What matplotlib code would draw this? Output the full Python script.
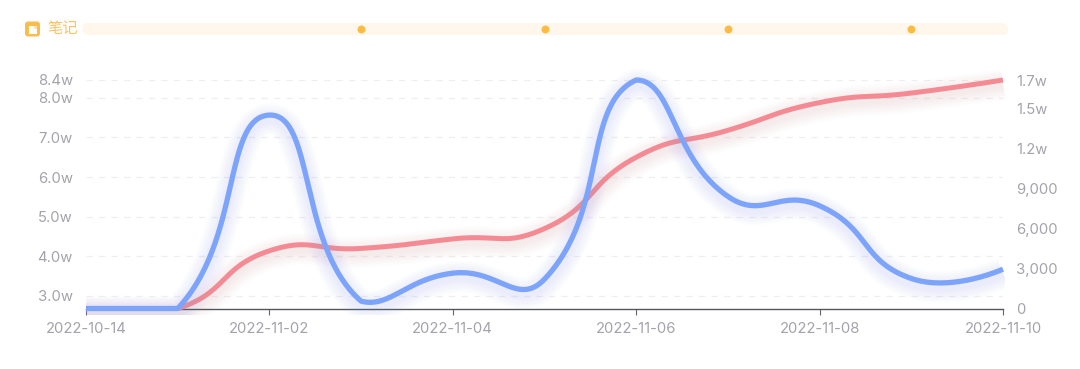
import numpy as np
import matplotlib
matplotlib.use("Agg")
import matplotlib.pyplot as plt
from matplotlib.patches import FancyBboxPatch, Rectangle
from matplotlib.transforms import ScaledTranslation

plt.rcParams['font.family'] = ['Inter', 'Noto Sans CJK SC', 'DejaVu Sans']

# ---- data ----
dates = ["2022-10-14", "", "2022-11-02", "", "2022-11-04", "", "2022-11-06", "", "2022-11-08", "", "2022-11-10"]
red_values = [2.684, 2.684, 4.14, 4.20, 4.44, 4.70, 6.50, 7.18, 7.88, 8.12, 8.45]
blue_values = [0, 0, 14500, 550, 2650, 2200, 17130, 8400, 7700, 2250, 2950]
note_points = [3, 5, 7, 9]
note_label = "笔记"
left_ticks = [3.0, 4.0, 5.0, 6.0, 7.0, 8.0, 8.45]
left_labels = ["3.0w", "4.0w", "5.0w", "6.0w", "7.0w", "8.0w", "8.4w"]
right_ticks = [0, 3000, 6000, 9000, 12000, 15000, 17130]
right_labels = ["0", "3,000", "6,000", "9,000", "1.2w", "1.5w", "1.7w"]

W, H = 1080, 369
fig = plt.figure(figsize=(W / 100, H / 100), dpi=100, facecolor="white")


def axes_px(x0, x1, ytop, ybot):
    return fig.add_axes([x0 / W, 1 - ybot / H, (x1 - x0) / W, (ybot - ytop) / H])


def smooth(ax, vals, strength=0.5, samples=60):
    """Bezier smoothing through the points, control points kept inside the data's bounds."""
    pts = ax.transData.transform(np.column_stack([np.arange(len(vals)), vals]))
    lo, hi = pts.min(axis=0), pts.max(axis=0)
    out = [pts[:1]]
    for i in range(len(pts) - 1):
        a, b = pts[i], pts[i + 1]
        if i == 0:
            c1 = a
        else:
            v = b - pts[i - 1]
            d0, d1 = np.linalg.norm(a - pts[i - 1]), np.linalg.norm(b - a)
            c1 = a + v * strength * d1 / (d0 + d1)
        if i + 2 >= len(pts):
            c2 = b
        else:
            v = pts[i + 2] - a
            d0, d1 = np.linalg.norm(b - a), np.linalg.norm(pts[i + 2] - b)
            c2 = b - v * strength * d0 / (d0 + d1)
        c1 = np.clip(c1, lo, hi)
        c2 = np.clip(c2, lo, hi)
        t = np.linspace(0, 1, samples + 1)[1:, None]
        out.append((1 - t)**3 * a + 3 * (1 - t)**2 * t * c1 + 3 * (1 - t) * t**2 * c2 + t**3 * b)
    return ax.transData.inverted().transform(np.vstack(out)).T


def glow_line(ax, xs, ys, color, lw):
    clip = Rectangle((0, -0.03), 1.002, 1.2, transform=ax.transAxes)
    shift = ax.transData + ScaledTranslation(0, -4 / 100, fig.dpi_scale_trans)
    for k in range(10):
        l, = ax.plot(xs, ys, color=color, lw=lw + 1.9 * (k + 1), alpha=0.017,
                     solid_capstyle="butt", transform=shift, zorder=2)
        l.set_clip_path(clip)
    l, = ax.plot(xs, ys, color=color, lw=lw, solid_capstyle="butt",
                 solid_joinstyle="round", zorder=3)
    l.set_clip_on(False)


# ---- main chart ----
ax = axes_px(86, 1003, 80, 308.5)
n = len(dates)
ax.set_xlim(0, n - 1)
ax.set_ylim(2.684, 8.45)
ax.patch.set_alpha(0)
for s in ["top", "left", "right"]:
    ax.spines[s].set_visible(False)
ax.spines["bottom"].set_color("#55555c")
ax.spines["bottom"].set_linewidth(1.0)

label_pos = [i for i, d in enumerate(dates) if d]
ax.set_xticks(label_pos)
ax.set_xticklabels([dates[i] for i in label_pos])
ax.tick_params(axis="x", length=4, width=0.8, color="#66666c", labelcolor="#a3a3ad",
               labelsize=10.7, pad=5.5)
ax.set_yticks(left_ticks)
ax.set_yticklabels(left_labels)
ax.tick_params(axis="y", length=0, labelcolor="#a3a3ad", labelsize=10.7, pad=9.5)
ax.yaxis.grid(True, color="#efeff1", lw=0.9, dashes=(5, 5))
ax.set_axisbelow(True)

rx, ry = smooth(ax, red_values)
glow_line(ax, rx, ry, "#f48b94", 3.6)

ax2 = ax.twinx()
ax2.set_xlim(0, n - 1)
ax2.set_ylim(0, 17130)
ax2.patch.set_alpha(0)
for s in ["top", "left", "right", "bottom"]:
    ax2.spines[s].set_visible(False)
ax2.set_yticks(right_ticks)
ax2.set_yticklabels(right_labels)
ax2.tick_params(axis="y", length=0, labelcolor="#a3a3ad", labelsize=10.7, pad=9.5)

bx, by = smooth(ax2, blue_values)
glow_line(ax2, bx, by, "#7da4fb", 3.8)

# ---- notes strip ----
strip = fig.add_axes([0, 0, 1, 1], zorder=5)
strip.set_xlim(0, W)
strip.set_ylim(H, 0)
strip.axis("off")
strip.patch.set_alpha(0)
strip.add_patch(FancyBboxPatch((88, 29), 914, 0.01, boxstyle="round,pad=6,rounding_size=6",
                               fc="#fff7ec", ec="none"))
strip.add_patch(FancyBboxPatch((27, 23.5), 11, 11, boxstyle="round,pad=2,rounding_size=3",
                               fc="#f9bd4c", ec="none"))
strip.add_patch(Rectangle((29, 25.5), 8, 8, fc="white", ec="none"))
strip.add_patch(Rectangle((34, 25.5), 3, 3, fc="#fde3b0", ec="none"))
strip.text(47, 29, note_label, color="#fbc25f", fontsize=11, va="center", ha="left")

notes = axes_px(86, 1003, 16, 42)
notes.set_zorder(6)
notes.set_xlim(0, n - 1)
notes.set_ylim(0, 1)
notes.axis("off")
notes.patch.set_alpha(0)
notes.scatter(note_points, [0.5] * len(note_points), s=33, color="#fbbc45", lw=0, zorder=3)

fig.savefig("out.png", dpi=100, facecolor="white")
